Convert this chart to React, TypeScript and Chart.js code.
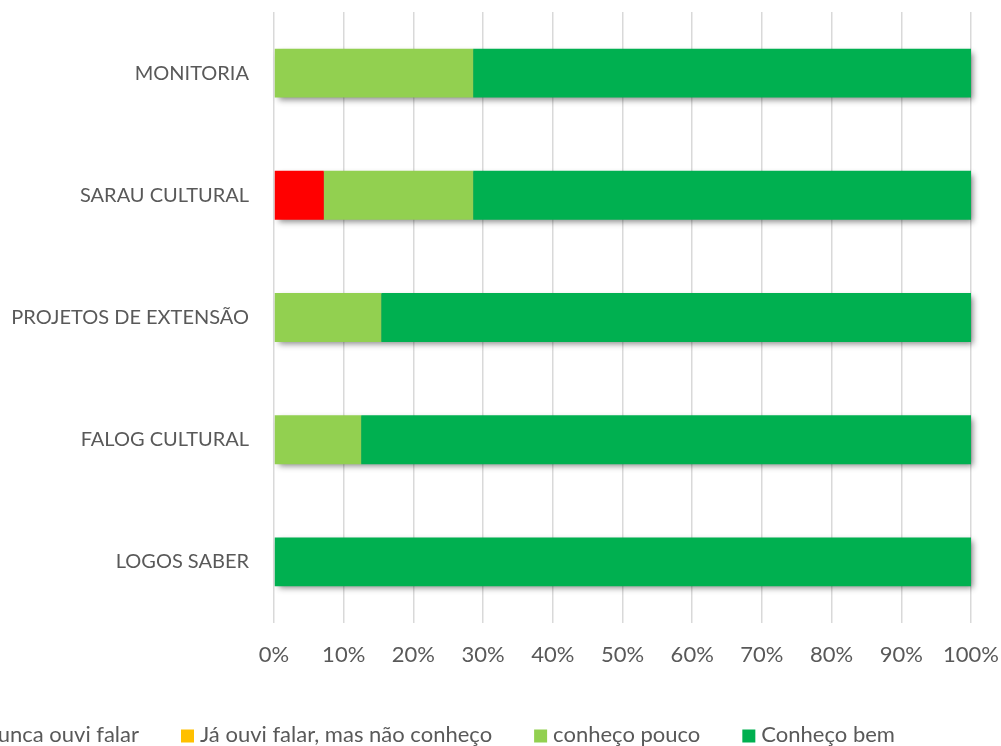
import React, { useEffect, useRef } from "react";
import { Chart, registerables } from "chart.js";

Chart.register(...registerables);

const categories = ["MONITORIA", "SARAU CULTURAL", "PROJETOS DE EXTENSÃO", "FALOG CULTURAL", "LOGOS SABER"];
const seriesNames = ["Nunca ouvi falar", "Já ouvi falar, mas não conheço", "conheço pouco", "Conheço bem"];
const seriesColors = ["#FF0000", "#FFC000", "#92D050", "#00B050"];
const nuncaOuviFalar = [0, 7.14, 0, 0, 0];
const jaOuviFalar = [0, 0, 0, 0, 0];
const conhecoPouco = [28.57, 21.43, 15.38, 12.5, 0];
const conhecoBem = [71.43, 71.43, 84.62, 87.5, 100];
const xMin = 0;
const xMax = 100;
const xStep = 10;

const FONT_FAMILY = "Lato, 'Noto Sans', sans-serif";
const Y_FONT_SIZE = 20;
const X_FONT_SIZE = 22;
const LEGEND_FONT_SIZE = 22;
const TEXT_COLOR = "#595959";

// Draws one shadow under each whole stacked bar, before the bars themselves.
const shadowPlugin = {
  id: "barShadow",
  beforeDatasetsDraw(chart: any) {
    const ctx = chart.ctx;
    const metas = chart.data.datasets.map((_: any, i: number) => chart.getDatasetMeta(i));
    ctx.save();
    ctx.shadowColor = "rgba(0,0,0,0.45)";
    ctx.shadowBlur = 6;
    ctx.shadowOffsetX = 3;
    ctx.shadowOffsetY = 3;
    ctx.fillStyle = "#7f7f7f";
    chart.data.labels.forEach((_: any, idx: number) => {
      let left = Infinity;
      let right = -Infinity;
      let top = 0;
      let h = 0;
      metas.forEach((m: any) => {
        const el = m.data[idx];
        if (!el) return;
        const a = Math.min(el.x, el.base);
        const b = Math.max(el.x, el.base);
        if (b - a < 0.5) return;
        left = Math.min(left, a);
        right = Math.max(right, b);
        top = el.y - el.height / 2;
        h = el.height;
      });
      if (right > left) ctx.fillRect(left + 1, top + 1, right - left - 2, h - 2);
    });
    ctx.restore();
  },
};

const legendPlugin = {
  id: "bottomLegend",
  afterDraw(chart: any) {
    const ctx = chart.ctx;
    ctx.save();
    ctx.font = `${LEGEND_FONT_SIZE}px ${FONT_FAMILY}`;
    ctx.textBaseline = "alphabetic";
    ctx.textAlign = "left";
    const box = 13;
    const gap = 6;
    const itemGap = 42;
    const items = chart.data.datasets.map((ds: any) => ({
      text: ds.label,
      color: ds.backgroundColor,
      w: box + gap + ctx.measureText(ds.label).width,
    }));
    let x = 181 - items[0].w - itemGap;
    const y = 736;
    for (const it of items) {
      ctx.fillStyle = it.color;
      ctx.fillRect(x, y - box / 2, box, box);
      ctx.fillStyle = TEXT_COLOR;
      ctx.fillText(it.text, x + box + gap, 742);
      x += it.w + itemGap;
    }
    ctx.restore();
  },
};

export default function App() {
  const ref = useRef<HTMLCanvasElement>(null);
  useEffect(() => {
    const values = [nuncaOuviFalar, jaOuviFalar, conhecoPouco, conhecoBem];
    const chart = new Chart(ref.current as HTMLCanvasElement, {
      type: "bar",
      data: {
        labels: categories,
        datasets: seriesNames.map((name, i) => ({
          label: name,
          data: values[i],
          backgroundColor: seriesColors[i],
          borderWidth: 0,
          barPercentage: 0.4,
          categoryPercentage: 1,
        })),
      },
      options: {
        indexAxis: "y",
        animation: false,
        responsive: false,
        maintainAspectRatio: false,
        layout: { padding: { top: 12, right: 30, left: 0, bottom: 0 } },
        plugins: { legend: { display: false }, tooltip: { enabled: false } },
        scales: {
          x: {
            stacked: true,
            min: xMin,
            max: xMax,
            ticks: {
              stepSize: xStep,
              callback: (v: any) => v + "%",
              color: TEXT_COLOR,
              font: { family: FONT_FAMILY, size: X_FONT_SIZE },
              padding: 19,
              maxRotation: 0,
            },
            grid: { color: "#D9D9D9", lineWidth: 1.5, drawTicks: false },
            border: { display: false },
            afterFit: (s: any) => {
              s.height = 123;
              s.paddingLeft = 0;
              s.paddingRight = 0;
            },
          },
          y: {
            stacked: true,
            ticks: {
              color: TEXT_COLOR,
              font: { family: FONT_FAMILY, size: Y_FONT_SIZE },
              padding: 25,
            },
            grid: { display: false, drawTicks: false },
            border: { display: false },
            afterFit: (s: any) => {
              s.width = 274;
              s.paddingTop = 0;
              s.paddingBottom = 0;
            },
          },
        },
      },
      plugins: [shadowPlugin, legendPlugin],
    });
    return () => chart.destroy();
  }, []);
  return (
    <div style={{ position: "fixed", left: 0, top: 0, width: 1001, height: 746, overflow: "hidden", background: "#fff" }}>
      <canvas ref={ref} width={1001} height={746} style={{ display: "block" }} />
    </div>
  );
}
